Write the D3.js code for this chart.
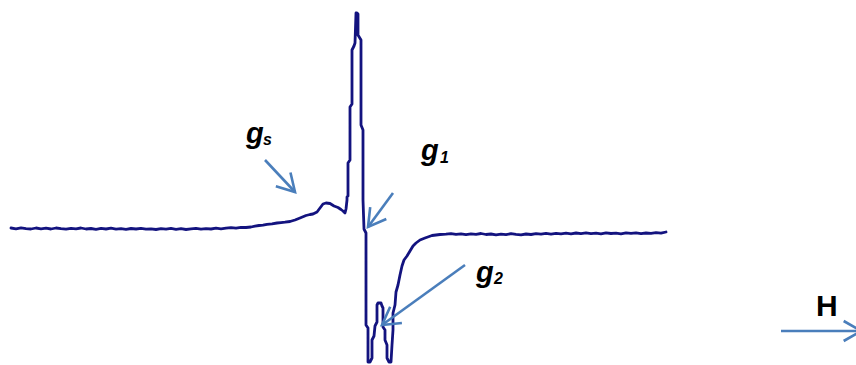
<!DOCTYPE html>
<html>
<head>
<meta charset="utf-8">
<script src="https://cdn.jsdelivr.net/npm/d3@7"></script>
<style>
  html, body { margin: 0; padding: 0; background: #fff; }
  svg { display: block; }
</style>
</head>
<body>
<svg id="chart" width="856" height="365"></svg>
<script>
// EPR spectrum: magnetic field (arbitrary units) and first-derivative signal (arbitrary units, baseline = 0)
// Low-field baseline
const fieldLow = [0,5,10,15,20,25,30,35,40,45,50,55,60,65,70,75,80,85,90,95,100,105,110,115,120,125,130,135,140,145,150,155,160,165,170,175,180,185,190,195,200,205,210,215,220,225,230];
const signalLow = [0,-0.8,0.2,-0.6,-1,0,-0.8,-0.2,-1,0,-0.7,-1.2,-0.3,-0.9,0,-1,-0.5,-1.3,-0.4,-1,-0.2,-1.1,-0.6,-1.4,-0.5,-1,-0.3,-1.2,-0.8,-1.5,-0.6,-1.1,-0.4,-1.3,-0.7,-1.5,-0.9,-0.3,-1.2,-0.6,-1,-0.2,-0.8,-0.1,0.3,-0.2,0.6];
// gs shoulder
const fieldRise = [235,240,244,248,252,256,261,266,270,274,279,284,289,295,299,302,306,309,312,315,319,323,327,330,332,334];
const signalRise = [0.5,1,1.8,2.5,2.8,3.6,4.2,5,5.4,5.8,6.5,8,10,12.5,13.5,14,16,20,24,25,24.5,22,20.5,18.5,17,15];
// main g1 line and g2 features
const fieldMain = [335,336,336,337,337,339,339,341,341,343,344,345,346,347,347,350,350,352,352,353,355,355,357,357,359,361,361,363,364,366,366,367,370,371,372,372,374,374,376,376,378,380,381,382,382,384,385,387,389,391,393,396,399,402,405,409,414,421,429];
const signalMain = [19,28,31,32,65,68,121,124,178,182,185,215,215,214,193,188,103,98,28,-1,-5,-97,-100,-134,-134,-130,-112,-108,-98,-94,-77,-75,-75,-78,-80,-99,-102,-112,-117,-130,-134,-134,-117,-102,-85,-77,-64,-57,-47,-38,-32,-28,-23,-18,-15,-12,-10,-7.5,-6.5];
// High-field baseline
const fieldHigh = [435,440,445,450,455,460,465,470,475,480,485,490,495,500,505,510,515,520,525,530,535,540,545,550,555,560,565,570,575,580,585,590,595,600,605,610,615,620,625,630,635,640,645,650,655];
const signalHigh = [-6.2,-5.6,-6.4,-5.8,-6.6,-5.9,-6.3,-5.5,-6.5,-6,-6.8,-6.1,-6.6,-5.7,-6.4,-6.9,-6,-6.5,-5.6,-6.2,-5.4,-6.1,-5.3,-5.9,-5.2,-5.8,-5,-5.7,-4.9,-5.6,-5.1,-5.8,-4.8,-5.5,-5.2,-5.9,-4.9,-5.4,-4.8,-5.6,-5,-5.3,-4.7,-5.2,-4];

// Annotation labels: letter, subscript, and the (field, signal) feature each arrow points at
const labelMain = ["g", "g", "g"];
const labelSub = ["s", "1", "2"];
const arrowTipField = [284, 357, 371];
const arrowTipSignal = [36, 1, -97];

const field = [].concat(fieldLow, fieldRise, fieldMain, fieldHigh);
const signal = [].concat(signalLow, signalRise, signalMain, signalHigh);

const svg = d3.select("#chart");
const x = d3.scaleLinear().domain([0, 655]).range([11, 666]);
const y = d3.scaleLinear().domain([-134, 215]).range([362, 13]);

const pts = field.map((f, i) => [f, signal[i]]);

svg.append("path")
  .datum(pts)
  .attr("fill", "none")
  .attr("stroke", "#13137f")
  .attr("stroke-width", 2.8)
  .attr("stroke-linejoin", "round")
  .attr("stroke-linecap", "round")
  .attr("d", d3.line().x(d => x(d[0])).y(d => y(d[1])).curve(d3.curveLinear));

const arrowColor = "#4a7ebb";

function arrow(x0, y0, x1, y1) {
  const g = svg.append("g").attr("fill", "none").attr("stroke", arrowColor)
    .attr("stroke-width", 2.6).attr("stroke-linecap", "butt");
  g.append("line").attr("x1", x0).attr("y1", y0).attr("x2", x1).attr("y2", y1);
  const a = Math.atan2(y1 - y0, x1 - x0);
  const L = 20, w = Math.PI / 6;
  const p1 = [x1 - L * Math.cos(a - w), y1 - L * Math.sin(a - w)];
  const p2 = [x1 - L * Math.cos(a + w), y1 - L * Math.sin(a + w)];
  g.append("path").attr("stroke-linejoin", "miter")
    .attr("d", `M${p1[0]},${p1[1]}L${x1},${y1}L${p2[0]},${p2[1]}`);
}

// arrow tails (layout)
const tails = [[265, 160], [393, 193], [465, 265]];
tails.forEach((t, i) => arrow(t[0], t[1], x(arrowTipField[i]), y(arrowTipSignal[i])));

// labels (layout)
const labelPos = [[246, 143, 263, 145], [421, 160, 440, 163], [476, 282, 494, 284]];
labelPos.forEach((p, i) => {
  svg.append("text").attr("x", p[0]).attr("y", p[1])
    .attr("font-family", "Liberation Sans, Arial, sans-serif")
    .attr("font-weight", "bold").attr("font-style", "italic")
    .attr("font-size", 29).attr("fill", "#000").text(labelMain[i]);
  svg.append("text").attr("x", p[2]).attr("y", p[3])
    .attr("font-family", "Liberation Sans, Arial, sans-serif")
    .attr("font-weight", "bold").attr("font-style", "italic")
    .attr("font-size", 16).attr("fill", "#000").text(labelSub[i]);
});

// Field direction arrow
arrow(781, 331, 861, 331);
svg.append("text").attr("x", 816).attr("y", 316)
  .attr("font-family", "Liberation Sans, Arial, sans-serif")
  .attr("font-weight", "bold").attr("font-size", 30).attr("fill", "#000").text("H");
</script>
</body>
</html>
